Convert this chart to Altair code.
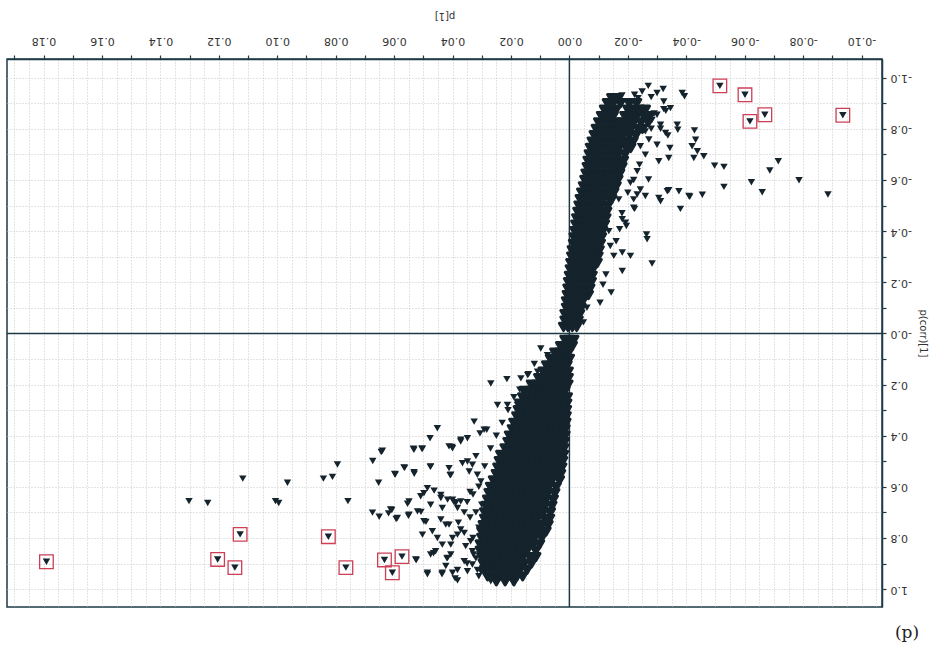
import altair as alt
import pandas as pd

# ---------------- data read from the (180-degree rotated) S-plot ----------------
# dense core, upper arm: one p(corr) value per row, p[1] values in that row
upper_core_y = [-0.025, -0.05, -0.075, -0.10, -0.125, -0.15, -0.175, -0.20, -0.225, -0.25,
                -0.275, -0.30, -0.325, -0.35, -0.375, -0.40, -0.425, -0.45, -0.475, -0.50,
                -0.525, -0.55, -0.575, -0.60, -0.625, -0.65, -0.675, -0.70, -0.725, -0.75,
                -0.775, -0.80, -0.825, -0.85, -0.875, -0.90, -0.92]
upper_core_x = [
    [0.002, 0.0005, -0.001, -0.0025],
    [0.0015, 0.0, -0.0015, -0.003],
    [0.0015, 0.0, -0.0015, -0.0035],
    [0.001, -0.0005, -0.002, -0.004],
    [0.001, -0.0005, -0.0025, -0.0045],
    [0.0007, -0.001, -0.003, -0.005, -0.0065],
    [0.0005, -0.0012, -0.003, -0.005, -0.007],
    [0.0003, -0.0015, -0.0035, -0.0055, -0.0075],
    [0.0, -0.0018, -0.0038, -0.0058, -0.0078],
    [-0.0003, -0.002, -0.004, -0.006, -0.008],
    [-0.0005, -0.0022, -0.0042, -0.0062, -0.0082, -0.0095],
    [-0.0008, -0.0025, -0.0045, -0.0065, -0.0085, -0.0098],
    [-0.001, -0.0028, -0.0048, -0.0068, -0.0088, -0.0102],
    [-0.0014, -0.003, -0.005, -0.007, -0.009, -0.0106],
    [-0.0016, -0.0033, -0.0053, -0.0073, -0.0093, -0.011],
    [-0.0019, -0.0036, -0.0056, -0.0076, -0.0096, -0.0114],
    [-0.0022, -0.004, -0.006, -0.008, -0.010, -0.012],
    [-0.0025, -0.0043, -0.0063, -0.0083, -0.0103, -0.0125],
    [-0.0029, -0.0047, -0.0067, -0.0087, -0.0107, -0.0128],
    [-0.0033, -0.005, -0.007, -0.009, -0.011, -0.0132],
    [-0.0037, -0.0055, -0.0075, -0.0095, -0.0115, -0.0137, -0.0145],
    [-0.0042, -0.006, -0.008, -0.010, -0.012, -0.014, -0.0152],
    [-0.0048, -0.0066, -0.0086, -0.0106, -0.0126, -0.0146, -0.016],
    [-0.0053, -0.0071, -0.0091, -0.0111, -0.0131, -0.0151, -0.0166],
    [-0.0057, -0.0075, -0.0095, -0.0115, -0.0135, -0.0155, -0.0172],
    [-0.0061, -0.008, -0.010, -0.012, -0.014, -0.016, -0.018],
    [-0.0064, -0.0083, -0.0103, -0.0123, -0.0143, -0.0163, -0.0185],
    [-0.0068, -0.0087, -0.0107, -0.0127, -0.0147, -0.0167, -0.019],
    [-0.0072, -0.009, -0.011, -0.013, -0.015, -0.017, -0.0195, -0.021],
    [-0.0078, -0.0096, -0.0116, -0.0136, -0.0156, -0.0176, -0.0198, -0.0218],
    [-0.0085, -0.0103, -0.0123, -0.0143, -0.0163, -0.0183, -0.0205, -0.0228],
    [-0.0092, -0.011, -0.013, -0.015, -0.017, -0.019, -0.021, -0.0235, -0.025],
    [-0.010, -0.012, -0.014, -0.016, -0.018, -0.020, -0.022, -0.0245, -0.027],
    [-0.011, -0.013, -0.015, -0.019, -0.021, -0.023, -0.0255, -0.0275],
    [-0.012, -0.014, -0.016, -0.020, -0.022, -0.024, -0.026],
    [-0.013, -0.015, -0.0175, -0.0205, -0.023],
    [-0.0145, -0.0165],
]

# dense core, lower arm
lower_core_y = [0.025, 0.05, 0.075, 0.10, 0.125, 0.15, 0.175, 0.20, 0.225, 0.25,
                0.275, 0.30, 0.325, 0.35, 0.375, 0.40, 0.425, 0.45, 0.475, 0.50,
                0.525, 0.55, 0.575, 0.60, 0.625, 0.65, 0.675, 0.70, 0.725, 0.75,
                0.775, 0.80, 0.825, 0.85, 0.875, 0.90, 0.925, 0.95, 0.97]
lower_core_x = [
    [0.0015, 0.0, -0.0015],
    [0.003, 0.0015, 0.0, -0.001],
    [0.005, 0.0033, 0.0018, 0.0003],
    [0.0065, 0.0048, 0.003, 0.0013, 0.0],
    [0.0078, 0.006, 0.0042, 0.0024, 0.0008],
    [0.009, 0.0072, 0.0054, 0.0036, 0.0018, 0.0004],
    [0.0105, 0.0087, 0.0069, 0.0051, 0.0033, 0.0015, 0.0004],
    [0.013, 0.011, 0.009, 0.007, 0.005, 0.003, 0.0012, 0.0005],
    [0.0155, 0.0135, 0.0115, 0.0095, 0.0075, 0.0055, 0.0035, 0.0015],
    [0.016, 0.014, 0.012, 0.010, 0.008, 0.006, 0.004, 0.002, 0.0007],
    [0.017, 0.015, 0.013, 0.011, 0.009, 0.007, 0.005, 0.003, 0.0009],
    [0.0175, 0.0155, 0.0135, 0.0115, 0.0095, 0.0075, 0.0055, 0.0035, 0.0015, 0.001],
    [0.018, 0.016, 0.014, 0.012, 0.010, 0.008, 0.006, 0.004, 0.0022, 0.0011],
    [0.019, 0.017, 0.015, 0.013, 0.011, 0.009, 0.007, 0.005, 0.003, 0.0012],
    [0.0195, 0.0175, 0.0155, 0.0135, 0.0115, 0.0095, 0.0075, 0.0055, 0.0035, 0.0015],
    [0.0205, 0.0185, 0.0165, 0.0145, 0.0125, 0.0105, 0.0085, 0.0065, 0.0045, 0.0025, 0.0015],
    [0.021, 0.019, 0.017, 0.015, 0.013, 0.011, 0.009, 0.007, 0.005, 0.003, 0.0017],
    [0.022, 0.020, 0.018, 0.016, 0.014, 0.012, 0.010, 0.008, 0.006, 0.004, 0.0019],
    [0.0235, 0.0215, 0.0195, 0.0175, 0.0155, 0.0135, 0.0115, 0.0095, 0.0075, 0.0055, 0.0035, 0.002],
    [0.024, 0.022, 0.020, 0.018, 0.016, 0.014, 0.012, 0.010, 0.008, 0.006, 0.004, 0.0023],
    [0.0245, 0.0225, 0.0205, 0.0185, 0.0165, 0.0145, 0.0125, 0.0105, 0.0085, 0.0065, 0.0045, 0.0026],
    [0.025, 0.023, 0.021, 0.019, 0.017, 0.015, 0.013, 0.011, 0.009, 0.007, 0.005, 0.003],
    [0.026, 0.024, 0.022, 0.020, 0.018, 0.016, 0.014, 0.012, 0.010, 0.008, 0.006, 0.0034],
    [0.027, 0.025, 0.023, 0.021, 0.019, 0.017, 0.015, 0.013, 0.011, 0.009, 0.007, 0.0045],
    [0.0275, 0.0255, 0.0235, 0.0215, 0.0195, 0.0175, 0.0155, 0.0135, 0.0115, 0.0095, 0.0075, 0.005],
    [0.028, 0.026, 0.024, 0.022, 0.020, 0.018, 0.016, 0.014, 0.012, 0.010, 0.008, 0.0055],
    [0.0285, 0.0265, 0.0245, 0.0225, 0.0205, 0.0185, 0.0165, 0.0145, 0.0125, 0.0105, 0.0085, 0.006],
    [0.029, 0.027, 0.025, 0.023, 0.021, 0.019, 0.017, 0.015, 0.013, 0.011, 0.009, 0.0065],
    [0.029, 0.027, 0.025, 0.023, 0.021, 0.019, 0.017, 0.015, 0.013, 0.011, 0.0085, 0.0068],
    [0.0295, 0.0275, 0.0255, 0.0235, 0.0215, 0.0195, 0.0175, 0.0155, 0.0135, 0.0115, 0.0095, 0.0073],
    [0.030, 0.028, 0.026, 0.024, 0.022, 0.020, 0.018, 0.016, 0.014, 0.012, 0.010, 0.008],
    [0.030, 0.028, 0.026, 0.024, 0.022, 0.020, 0.018, 0.016, 0.014, 0.012, 0.0095],
    [0.0305, 0.0285, 0.0265, 0.0245, 0.0225, 0.0205, 0.0185, 0.0165, 0.0145, 0.0125, 0.0102],
    [0.0305, 0.0285, 0.0265, 0.0245, 0.0225, 0.0205, 0.0185, 0.0165, 0.0145, 0.0115],
    [0.030, 0.028, 0.026, 0.024, 0.022, 0.020, 0.018, 0.016, 0.0135, 0.0115],
    [0.0295, 0.0275, 0.0255, 0.0235, 0.0215, 0.0195, 0.0175, 0.0155, 0.013],
    [0.029, 0.027, 0.025, 0.023, 0.021, 0.019, 0.017, 0.0145],
    [0.028, 0.026, 0.024, 0.022, 0.020, 0.018, 0.016],
    [0.025, 0.022, 0.019],
]

# scattered points, upper arm
upper_scatter_x = [-0.0270, -0.0321, -0.0249, -0.0223, -0.0280, -0.0386, -0.0394, -0.0169, -0.0323, -0.0300,
                   -0.0283, -0.0312, -0.0329, -0.0369, -0.0371, -0.0344, -0.0340, -0.0335, -0.0375, -0.0306,
                   -0.0312, -0.0409, -0.0380, -0.0223, -0.0264, -0.0266, -0.0209, -0.0181, -0.0172, -0.0192,
                   -0.0243, -0.0272, -0.0300, -0.0260, -0.0306, -0.0232, -0.0271, -0.0209, -0.0243, -0.0169,
                   -0.0220, -0.0135, -0.0140, -0.0152, -0.0346, -0.0323,
                   -0.0428, -0.0432, -0.0420, -0.0438, -0.0426, -0.0460, -0.0497, -0.0529, -0.0529, -0.0623,
                   -0.0660, -0.0686, -0.0715, -0.0786, -0.0885, -0.0455, -0.0412, -0.0340, -0.0283, -0.0181,
                   -0.0181, -0.0143, -0.0232, -0.0220, -0.0260, -0.0195, -0.0337, -0.0312,
                   -0.0125, -0.0115, -0.0160, -0.0180, -0.0200, -0.0220, -0.0240, -0.0260, -0.0280, -0.0290,
                   -0.0330, -0.0200, -0.0180, -0.0235, -0.0300, -0.0105, -0.0048, -0.0060]
upper_scatter_y = [-0.968, -0.956, -0.946, -0.933, -0.924, -0.940, -0.927, -0.916, -0.877, -0.855,
                   -0.835, -0.816, -0.784, -0.816, -0.796, -0.725, -0.686, -0.556, -0.556, -0.530,
                   -0.517, -0.537, -0.487, -0.487, -0.387, -0.368, -0.303, -0.446, -0.407, -0.433,
                   -0.732, -0.758, -0.738, -0.699, -0.673, -0.634, -0.602, -0.589, -0.563, -0.524,
                   -0.524, -0.400, -0.342, -0.303, -0.881, -0.907,
                   -0.794, -0.757, -0.732, -0.712, -0.686, -0.693, -0.656, -0.651, -0.573, -0.591,
                   -0.552, -0.637, -0.673, -0.599, -0.543, -0.542, -0.534, -0.560, -0.273, -0.316,
                   -0.244, -0.160, -0.543, -0.491, -0.537, -0.420, -0.774, -0.800,
                   -0.230, -0.190, -0.360, -0.470, -0.550, -0.600, -0.660, -0.790, -0.800, -0.860,
                   -0.870, -0.900, -0.930, -0.920, -0.940, -0.120, -0.043, -0.100]

# scattered points, lower arm
lower_scatter_x = [0.0269, 0.0214, 0.0246, 0.0212, 0.0178, 0.0326, 0.0306, 0.0283, 0.0452, 0.0477,
                   0.0372, 0.0412, 0.0400, 0.0532, 0.0503, 0.0640, 0.0349, 0.0366, 0.0332, 0.0475,
                   0.0566, 0.0532, 0.0598, 0.0412, 0.0406, 0.0343, 0.0315, 0.0303, 0.0486, 0.0463,
                   0.0498, 0.0509, 0.0440, 0.0417, 0.0400, 0.0389, 0.0372, 0.0549, 0.0475, 0.0435,
                   0.0383, 0.0612, 0.0589, 0.0549, 0.0520, 0.0498, 0.0440, 0.0412, 0.0503, 0.0469,
                   0.0452, 0.0372, 0.0383, 0.0400, 0.0435, 0.0406, 0.0338, 0.0355, 0.0332, 0.0475,
                   0.0458, 0.0526, 0.0417, 0.0423, 0.0486, 0.0435, 0.0400, 0.0383, 0.0349, 0.0303,
                   0.0360, 0.0332, 0.0269,
                   0.0166, 0.0143, 0.0155, 0.0292, 0.0349, 0.0372, 0.0098, 0.0075, 0.0063, 0.0109,
                   0.0132, 0.0098,
                   0.1302, 0.1238, 0.1118, 0.1006, 0.0995, 0.0965, 0.0842, 0.0811, 0.0794, 0.0758,
                   0.0673, 0.0644, 0.0653, 0.0596, 0.0564, 0.0531, 0.0674, 0.0651, 0.0619, 0.0608,
                   0.0593, 0.0554, 0.0551, 0.0508, 0.0491, 0.0524, 0.0486, 0.0436, 0.0391, 0.0419,
                   0.0465, 0.0476, 0.0534, 0.0505, 0.0408, 0.0402,
                   0.031, 0.033, 0.035, 0.032, 0.034, 0.031, 0.036, 0.033, 0.030, 0.032,
                   0.035, 0.031, 0.034, 0.036, 0.038, 0.030, 0.029, 0.032, 0.027, 0.025,
                   0.023, 0.021, 0.019, 0.017, 0.012, 0.014,
                   0.0440, 0.0395, 0.0423, 0.0406, 0.0383, 0.0328, 0.0315]
lower_scatter_y = [0.196, 0.179, 0.280, 0.280, 0.280, 0.345, 0.391, 0.377, 0.371, 0.410,
                   0.423, 0.442, 0.449, 0.455, 0.451, 0.459, 0.501, 0.508, 0.514, 0.520,
                   0.524, 0.543, 0.550, 0.527, 0.553, 0.540, 0.553, 0.579, 0.605, 0.615,
                   0.625, 0.637, 0.644, 0.650, 0.650, 0.663, 0.657, 0.657, 0.670, 0.683,
                   0.683, 0.689, 0.722, 0.709, 0.696, 0.735, 0.728, 0.748, 0.787, 0.774,
                   0.800, 0.767, 0.787, 0.800, 0.826, 0.826, 0.813, 0.832, 0.852, 0.865,
                   0.852, 0.884, 0.878, 0.910, 0.936, 0.936, 0.936, 0.966, 0.930, 0.930,
                   0.891, 0.904, 0.969,
                   0.176, 0.163, 0.267, 0.377, 0.410, 0.416, 0.059, 0.085, 0.124, 0.150,
                   0.202, 0.215,
                   0.656, 0.663, 0.568, 0.656, 0.663, 0.584, 0.568, 0.561, 0.513, 0.656,
                   0.499, 0.464, 0.584, 0.552, 0.526, 0.549, 0.701, 0.717, 0.704, 0.691,
                   0.726, 0.666, 0.713, 0.698, 0.737, 0.886, 0.942, 0.942, 0.958, 0.880,
                   0.860, 0.522, 0.451, 0.451, 0.555, 0.444,
                   0.60, 0.63, 0.66, 0.70, 0.72, 0.76, 0.78, 0.80, 0.84, 0.88,
                   0.90, 0.95, 0.62, 0.70, 0.74, 0.67, 0.52, 0.48, 0.45, 0.40,
                   0.35, 0.30, 0.25, 0.22, 0.12, 0.16,
                   0.632, 0.660, 0.748, 0.865, 0.925, 0.865, 0.925]

# highlighted (boxed) variables
marked_x = [-0.0515, -0.0601, -0.0618, -0.0669, -0.0936,
            0.179, 0.1127, 0.1204, 0.1145, 0.0825, 0.0765, 0.0633, 0.0573, 0.0606]
marked_y = [-0.968, -0.933, -0.829, -0.855, -0.853,
            0.893, 0.786, 0.884, 0.916, 0.795, 0.916, 0.886, 0.873, 0.936]

zero_line = [0.0]
panel_tag = ["(p)"]

# ---------------- build tables ----------------
cx, cy = [], []
for yv, row in zip(upper_core_y, upper_core_x):
    for xv in row:
        cx.append(xv); cy.append(yv)
for yv, row in zip(lower_core_y, lower_core_x):
    for xv in row:
        cx.append(xv); cy.append(yv)
core = pd.DataFrame({"p1": cx, "pcorr": cy})
scatter = pd.DataFrame({"p1": upper_scatter_x + lower_scatter_x,
                        "pcorr": upper_scatter_y + lower_scatter_y})
marked = pd.DataFrame({"p1": marked_x, "pcorr": marked_y})

# ---------------- styling ----------------
INK = "#15232c"
AXIS = "#1d3a45"
GRID = "#c9c9c9"
BOX = "#cc3f55"

x_grid = [round(-0.105 + 0.005 * i, 4) for i in range(60)]
y_grid = [round(-1.0 + 0.1 * i, 2) for i in range(21)]

x_scale = alt.Scale(domain=[-0.107, 0.1925], reverse=True, nice=False, zero=False)
y_scale = alt.Scale(domain=[-1.073, 1.07], reverse=True, nice=False, zero=False)

x_axis = alt.Axis(
    orient="top", values=x_grid, title="p[1]", grid=True,
    gridColor=GRID, gridDash=[1, 2], gridWidth=1,
    domainColor=AXIS, domainWidth=1.5,
    tickColor=AXIS, tickSize=4, tickWidth=1.2,
    tickOpacity={"condition": {"test": "abs(datum.value*100 - round(datum.value*100)) < 0.01", "value": 1}, "value": 0},
    labelExpr="abs(datum.value*50 - round(datum.value*50)) < 0.01 ? replace(format(datum.value, '.2f'), '\u2212', '-') : ''",
    labelAngle=180, labelAlign="center", labelBaseline="top", labelPadding=9,
    labelFont="DejaVu Sans", labelFontSize=11, labelColor="#333333",
    labelOverlap=False, labelFlush=False,
    titleAngle=180, titleBaseline="top", titleFont="DejaVu Sans", titleFontSize=10,
    titleFontWeight="normal", titleColor="#333333", titlePadding=15,
)
y_axis = alt.Axis(
    orient="right", values=y_grid, title="p(corr)[1]", grid=True,
    gridColor=GRID, gridDash=[1, 2], gridWidth=1,
    domainColor=AXIS, domainWidth=1.5,
    tickColor=AXIS, tickSize=4, tickWidth=1.2,
    labelExpr="abs(datum.value*5 - round(datum.value*5)) < 0.01 ? (abs(datum.value) < 0.001 ? '-0.0' : replace(format(datum.value, '.1f'), '\u2212', '-')) : ''",
    labelAngle=180, labelAlign="right", labelBaseline="middle", labelPadding=4,
    labelFont="DejaVu Sans", labelFontSize=11, labelColor="#333333",
    labelOverlap=False, labelFlush=False,
    titleAngle=90, titleFont="DejaVu Sans", titleFontSize=10,
    titleFontWeight="normal", titleColor="#333333", titlePadding=6,
)

base_x = alt.X("p1:Q", scale=x_scale, axis=x_axis)
base_y = alt.Y("pcorr:Q", scale=y_scale, axis=y_axis)

vrule = alt.Chart(pd.DataFrame({"p1": zero_line})).mark_rule(color=AXIS, strokeWidth=1.5).encode(
    x=alt.X("p1:Q", scale=x_scale, axis=x_axis)
)
hrule = alt.Chart(pd.DataFrame({"pcorr": zero_line})).mark_rule(color=AXIS, strokeWidth=1.5).encode(
    y=alt.Y("pcorr:Q", scale=y_scale, axis=y_axis)
)

# dense core: triangles with a thick outline in the same ink so they merge into a solid blob
core_pts = alt.Chart(core).mark_point(
    shape="triangle-down", filled=True, size=70, color=INK, stroke=INK,
    strokeWidth=3, strokeJoin="round", opacity=1
).encode(x=base_x, y=base_y)

scatter_pts = alt.Chart(scatter).mark_point(
    shape="triangle-down", filled=True, size=55, color=INK, opacity=1
).encode(x=base_x, y=base_y)

marked_pts = alt.Chart(marked).mark_point(
    shape="triangle-down", filled=True, size=55, color=INK, opacity=1
).encode(x=base_x, y=base_y)

boxes = alt.Chart(marked).mark_point(
    shape="square", filled=False, size=185, stroke=BOX, strokeWidth=1.3, opacity=1
).encode(x=base_x, y=base_y)

tag = alt.Chart(pd.DataFrame({"t": panel_tag})).mark_text(
    font="DejaVu Serif", fontSize=17, color="#222222", align="center", baseline="middle"
).encode(x=alt.value(900), y=alt.value(574), text="t:N")

chart = alt.layer(vrule, hrule, core_pts, scatter_pts, marked_pts, boxes, tag).properties(
    width=875, height=548,
    padding={"left": 6, "top": 10, "right": 5, "bottom": 5},
    background="white",
).configure_view(stroke=AXIS, strokeWidth=1.5)

chart.save("out.html", embed_options={"renderer": "svg", "actions": False})
